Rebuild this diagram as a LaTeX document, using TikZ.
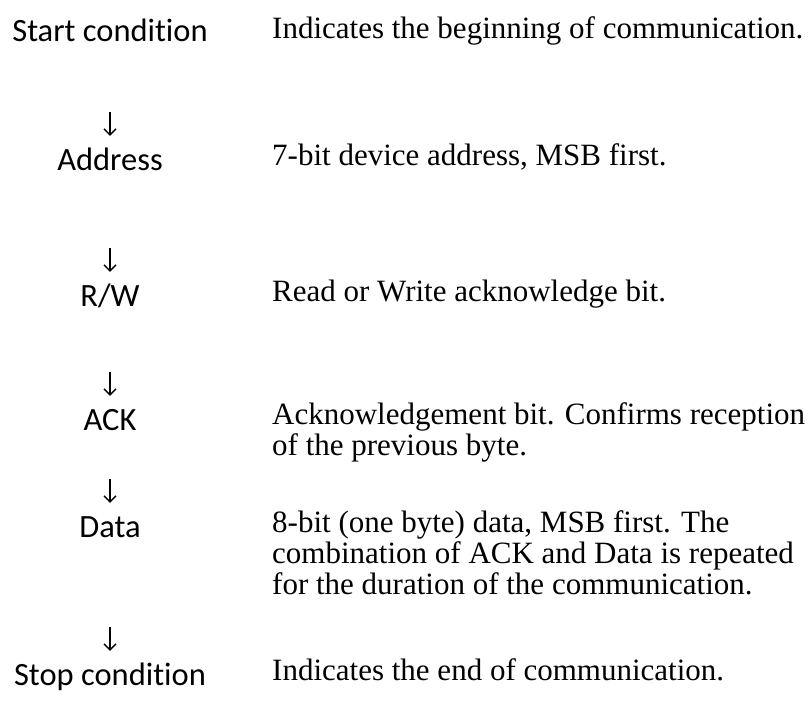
\documentclass[tikz,border=0pt]{standalone}
\usepackage{fontspec}
\setmainfont{Liberation Serif}
\newfontfamily\labelfont{Carlito}[Ligatures={NoCommon}]
\usetikzlibrary{positioning,arrows.meta}

\begin{document}
\begin{tikzpicture}[
	x=1pt, y=-1pt,
	lbl/.style={
		font=\labelfont\fontsize{32.5}{38}\selectfont,
		inner sep=0pt, text height=22pt, text depth=7pt, anchor=base
	},
	desc/.style={
		font=\fontsize{31}{31}\selectfont,
		inner sep=0pt, anchor=base west, align=left
	},
	arr/.style={-{Straight Barb[length=6pt,width=12pt]}, line width=1.4pt, shorten >=12pt}
]
\useasboundingbox (0,0) rectangle (811,715);

% Left column: frame fields
\node[lbl] (start) at (110, 41)  {Start condition};
\node[lbl] (addr)  at (110, 170) {Address};
\node[lbl] (rw)    at (110, 306) {R/W};
\node[lbl] (ack)   at (110, 430) {ACK};
\node[lbl] (data)  at (110, 537) {Data};
\node[lbl] (stop)  at (110, 685) {Stop condition};

% Right column: descriptions (base = last line)
\node[desc] (startd) at (272, 38)  {Indicates the beginning of communication.};
\node[desc] (addrd)  at (272, 165) {7-bit device address, MSB first.};
\node[desc] (rwd)    at (272, 301) {Read or Write acknowledge bit.};
\node[desc] (ackd)   at (272, 455) {Acknowledgement bit. Confirms reception\\of the previous byte.};
\node[desc] (datad)  at (272, 594) {8-bit (one byte) data, MSB first. The\\combination of ACK and Data is repeated\\for the duration of the communication.};
\node[desc] (stopd)  at (272, 680) {Indicates the end of communication.};

% Arrows, each sitting just above the next field
\draw[arr, shorten <=64pt] (start) -- (addr);
\draw[arr, shorten <=71pt] (addr)  -- (rw);
\draw[arr, shorten <=59pt] (rw)    -- (ack);
\draw[arr, shorten <=42pt] (ack)   -- (data);
\draw[arr, shorten <=83pt] (data)  -- (stop);

\end{tikzpicture}
\end{document}
